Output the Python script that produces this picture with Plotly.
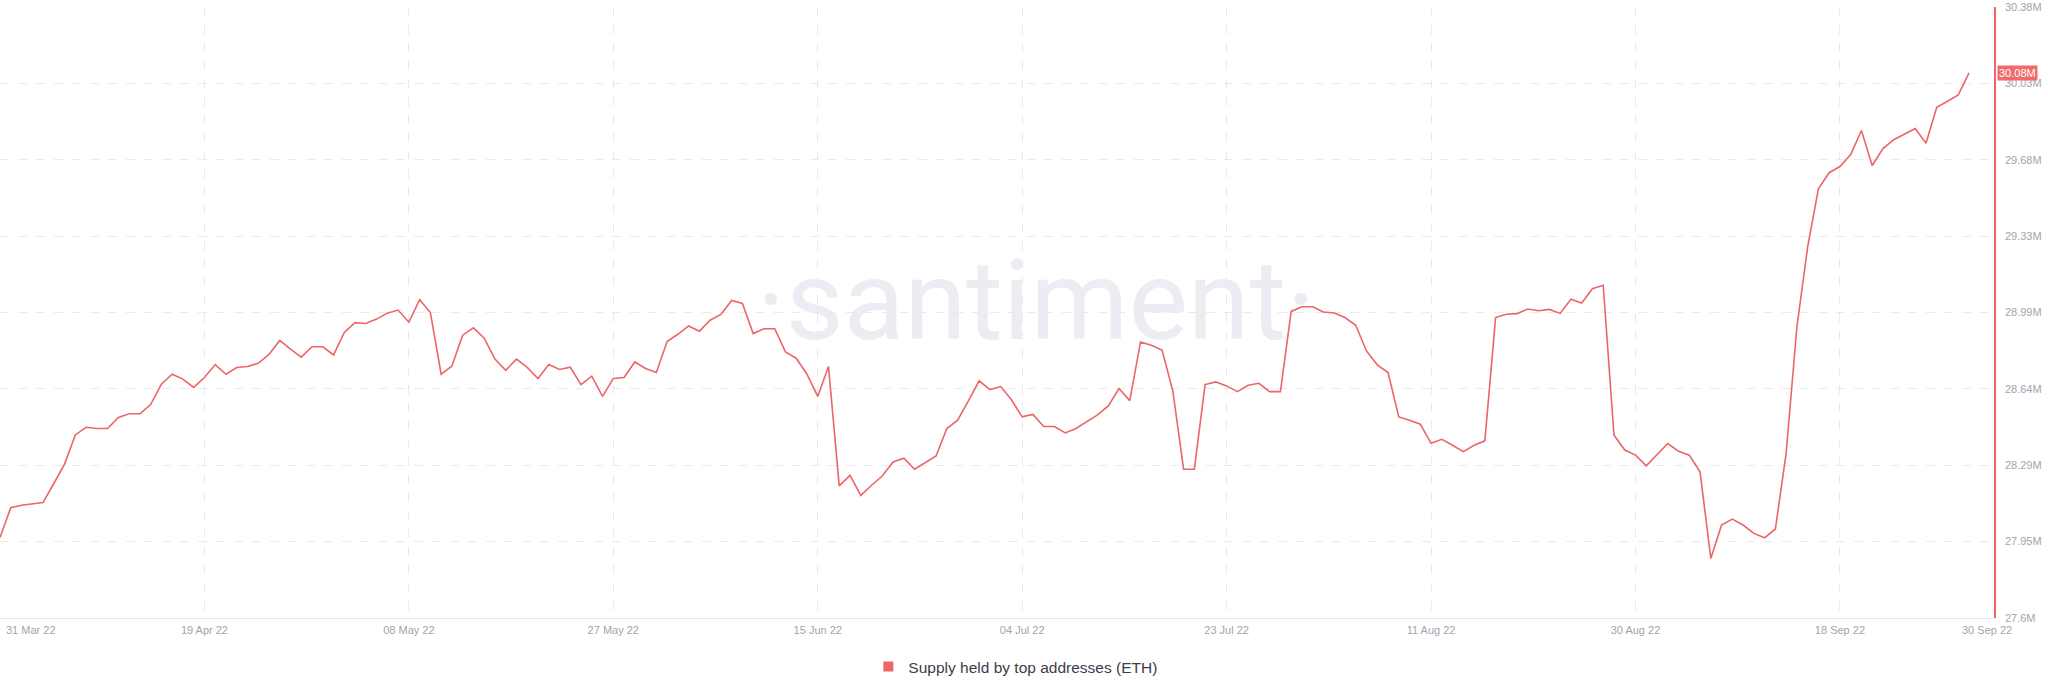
import plotly.graph_objects as go
import pandas as pd

# ---- data ----
start_date = "2022-03-31"
supply_m = [
    27.966, 28.102, 28.113, 28.119, 28.125, 28.212, 28.300, 28.433, 28.468, 28.462,
    28.462, 28.512, 28.529, 28.529, 28.571, 28.664, 28.709, 28.687, 28.649, 28.694,
    28.753, 28.709, 28.740, 28.744, 28.759, 28.799, 28.863, 28.823, 28.787, 28.834,
    28.834, 28.797, 28.899, 28.944, 28.940, 28.960, 28.987, 29.001, 28.946, 29.048,
    28.990, 28.709, 28.747, 28.887, 28.920, 28.873, 28.778, 28.727, 28.778, 28.740,
    28.690, 28.753, 28.731, 28.741, 28.662, 28.700, 28.608, 28.690, 28.694, 28.765,
    28.735, 28.717, 28.858, 28.891, 28.929, 28.905, 28.955, 28.981, 29.045, 29.031,
    28.894, 28.916, 28.916, 28.811, 28.782, 28.709, 28.608, 28.744, 28.201, 28.249,
    28.158, 28.204, 28.246, 28.310, 28.327, 28.277, 28.307, 28.337, 28.462, 28.500,
    28.588, 28.679, 28.639, 28.653, 28.593, 28.515, 28.526, 28.471, 28.471, 28.442,
    28.462, 28.495, 28.524, 28.565, 28.644, 28.589, 28.856, 28.841, 28.819, 28.633,
    28.277, 28.277, 28.662, 28.674, 28.656, 28.630, 28.659, 28.668, 28.630, 28.630,
    28.995, 29.016, 29.016, 28.992, 28.988, 28.967, 28.932, 28.815, 28.752, 28.717,
    28.515, 28.500, 28.482, 28.395, 28.413, 28.386, 28.357, 28.386, 28.406, 28.967,
    28.982, 28.985, 29.006, 28.998, 29.004, 28.986, 29.050, 29.033, 29.098, 29.114,
    28.433, 28.364, 28.341, 28.292, 28.341, 28.394, 28.359, 28.341, 28.265, 27.871,
    28.023, 28.050, 28.023, 27.985, 27.965, 28.005, 28.349, 28.924, 29.288, 29.553,
    29.626, 29.654, 29.709, 29.818, 29.659, 29.736, 29.776, 29.800, 29.827, 29.760,
    29.924, 29.951, 29.980, 30.080,
]
dates = pd.date_range(start_date, periods=len(supply_m), freq="D")

x_tick_dates = ["2022-04-19", "2022-05-08", "2022-05-27", "2022-06-15", "2022-07-04",
                "2022-07-23", "2022-08-11", "2022-08-30", "2022-09-18"]
x_tick_labels = ["19 Apr 22", "08 May 22", "27 May 22", "15 Jun 22", "04 Jul 22",
                 "23 Jul 22", "11 Aug 22", "30 Aug 22", "18 Sep 22"]
first_label = "31 Mar 22"
last_label = "30 Sep 22"

y_tick_vals = [27.6, 27.9475, 28.295, 28.6425, 28.99, 29.3375, 29.685, 30.0325, 30.38]
y_tick_labels = ["27.6M", "27.95M", "28.29M", "28.64M", "28.99M",
                 "29.33M", "29.68M", "30.03M", "30.38M"]
latest_label = "30.08M"
series_name = "Supply held by top addresses (ETH)"

RED = "#ec6567"
GRID = "#e9e9ee"
TICK_COLOR = "#a3a3ad"
FONT = "Liberation Sans, Arial, sans-serif"

fig = go.Figure()
fig.add_trace(go.Scatter(
    x=dates, y=supply_m, mode="lines",
    line=dict(color=RED, width=1.6),
    showlegend=False, name=series_name,
))
# legend entry (square swatch)
fig.add_trace(go.Scatter(
    x=[None], y=[None], mode="markers",
    marker=dict(symbol="square", size=10, color=RED),
    name=series_name, showlegend=True,
))

fig.update_layout(
    width=2048, height=694,
    margin=dict(l=0, r=54, t=7, b=76),
    paper_bgcolor="white", plot_bgcolor="white",
    font=dict(family=FONT, size=11, color=TICK_COLOR),
    legend=dict(
        orientation="h", x=0.5092, xanchor="center", y=-0.08, yanchor="middle",
        font=dict(family=FONT, size=15.5, color="#3d3d4a"),
        itemwidth=30,
    ),
    xaxis=dict(
        range=["2022-03-31", "2022-10-02 07:40"],
        tickvals=x_tick_dates, ticktext=x_tick_labels,
        showgrid=True, gridcolor=GRID, griddash="dash", gridwidth=1,
        showline=True, linecolor="#e6e6ea", linewidth=1,
        ticks="", ticklabelstandoff=2,
        tickfont=dict(family=FONT, size=11, color=TICK_COLOR),
        zeroline=False, fixedrange=True,
    ),
    yaxis=dict(
        range=[27.6, 30.38], side="right",
        tickvals=y_tick_vals, ticktext=y_tick_labels,
        showgrid=True, gridcolor=GRID, griddash="dash", gridwidth=1,
        showline=True, linecolor=RED, linewidth=1.5,
        ticks="", ticklabelstandoff=7,
        tickfont=dict(family=FONT, size=11, color=TICK_COLOR),
        zeroline=False, fixedrange=True,
    ),
    hovermode=False,
)

# edge date labels (clamped inside like the reference)
fig.add_annotation(xref="paper", yref="paper", x=0, y=0, xanchor="left", yanchor="top",
                   xshift=4, yshift=-4, text=first_label, showarrow=False,
                   font=dict(family=FONT, size=11, color=TICK_COLOR))
fig.add_annotation(xref="paper", yref="paper", x=1, y=0, xanchor="right", yanchor="top",
                   xshift=20, yshift=-4, text=last_label, showarrow=False,
                   font=dict(family=FONT, size=11, color=TICK_COLOR))

# latest value badge
fig.add_annotation(xref="paper", yref="y", x=1, y=supply_m[-1], xanchor="left",
                   yanchor="middle", xshift=3, text=latest_label, showarrow=False,
                   bgcolor="#f06a6c", borderpad=1,
                   font=dict(family=FONT, size=11, color="white"))

# watermark behind the line
fig.add_shape(type="rect", xref="paper", yref="paper", x0=0.30, x1=0.7392, y0=0.40, y1=0.6654,
              line=dict(width=0), fillcolor="rgba(0,0,0,0)", layer="below",
              label=dict(text="·santiment·", textposition="middle center",
                         font=dict(family="Roboto, sans-serif", size=112, color="#ececf2")))

fig.write_html("out.html", config={"displayModeBar": False},
               post_script="document.body.style.margin='0';")
